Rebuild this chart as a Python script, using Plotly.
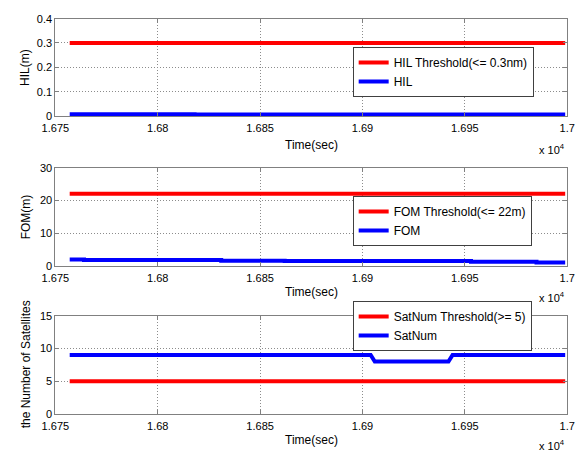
import plotly.graph_objects as go

# ---- data -------------------------------------------------------------
t_range = [16757, 16999]                 # time span of the run (sec)

hil_threshold = 0.3                      # HIL limit (<= 0.3 nm)
hil_t = [16757, 16818, 16999]
hil = [0.007, 0.006, 0.006]

fom_threshold = 22                       # FOM limit (<= 22 m)
fom_t = [16757, 16764, 16831, 16862, 16953, 16985, 16999]
fom = [2.0, 1.8, 1.6, 1.5, 1.3, 1.1, 1.1]

sat_threshold = 5                        # minimum satellites (>= 5)
sat_t = [16757, 16904, 16906, 16942, 16944, 16999]
sat = [9, 9, 8, 8, 9, 9]

x_ticks = [16750, 16800, 16850, 16900, 16950, 17000]
x_ticktext = ["1.675", "1.68", "1.685", "1.69", "1.695", "1.7"]

# ---- layout helpers ---------------------------------------------------
W, H = 581, 457
FONT = "Liberation Sans, Arial, sans-serif"
RED, BLUE = "#ff0000", "#0000ff"
LW = 4

x_dom = [43 / W, 575 / W]
panels = [  # (top px, bottom px, x-title px, exponent px, legend top px)
    (13, 113, 143, 147, 42),
    (166, 267, 294, 299, 195),
    (318, 419, 446, 451, 303),
]

fig = go.Figure()

def add_panel(i, thr_name, thr_val, name, xs, ys, shape, yrange, ydtick, ylabel):
    ax = "" if i == 1 else str(i)
    lg = "legend" if i == 1 else f"legend{i}"
    fig.add_trace(go.Scatter(
        x=t_range, y=[thr_val, thr_val], mode="lines", name=thr_name,
        line=dict(color=RED, width=LW), xaxis="x" + ax, yaxis="y" + ax, legend=lg))
    fig.add_trace(go.Scatter(
        x=xs, y=ys, mode="lines", name=name,
        line=dict(color=BLUE, width=LW, shape=shape), xaxis="x" + ax, yaxis="y" + ax, legend=lg))

    top, bot, ty, ey, lt = panels[i - 1]
    axis_common = dict(
        showline=True, linecolor="#808080", linewidth=1, mirror="ticks",
        ticks="inside", ticklen=4, tickcolor="#808080",
        showgrid=True, gridcolor="#8c8c8c", griddash="1px,2px", gridwidth=1,
        zeroline=False, tickfont=dict(family=FONT, size=11, color="#000"),
        ticklabeloverflow="allow",
    )
    fig.update_layout(**{
        "xaxis" + ax: dict(
            domain=x_dom, anchor="y" + ax, range=[16750, 17000],
            tickvals=x_ticks, ticktext=x_ticktext, ticklabelstandoff=2, **axis_common),
        "yaxis" + ax: dict(
            domain=[1 - bot / H, 1 - top / H], anchor="x" + ax, range=yrange,
            dtick=ydtick, **axis_common),
        lg: dict(
            x=352 / W, y=1 - lt / H, xanchor="left", yanchor="top",
            bgcolor="white", bordercolor="#404040", borderwidth=1,
            font=dict(family=FONT, size=12, color="#000"),
            tracegroupgap=0),
    })
    # axis titles and exponent label
    fig.add_annotation(x=(x_dom[0] + x_dom[1]) / 2, y=1 - ty / H,
                       xanchor="center", yanchor="middle",
                       xref="paper", yref="paper", text="Time(sec)", showarrow=False,
                       font=dict(family=FONT, size=12, color="#000"))
    fig.add_annotation(x=x_dom[1], y=1 - ey / H, xanchor="right", yanchor="middle",
                       xref="paper", yref="paper", text="x 10<sup>4</sup>", showarrow=False,
                       font=dict(family=FONT, size=11, color="#000"))
    fig.add_annotation(x=12 / W, y=1 - (top + bot) / 2 / H, textangle=-90,
                       xanchor="center", yanchor="middle",
                       xref="paper", yref="paper", text=ylabel, showarrow=False,
                       font=dict(family=FONT, size=12, color="#000"))


add_panel(1, "HIL Threshold(<= 0.3nm)", hil_threshold, "HIL", hil_t, hil, "hv",
          [0, 0.4], 0.1, "HIL(m)")
add_panel(2, "FOM Threshold(<= 22m)", fom_threshold, "FOM", fom_t, fom, "hv",
          [0, 30], 10, "FOM(m)")
add_panel(3, "SatNum Threshold(>= 5)", sat_threshold, "SatNum", sat_t, sat, "linear",
          [0, 15], 5, "the Number of Satellites")

fig.update_layout(
    width=W, height=H, margin=dict(l=0, r=0, t=0, b=0),
    paper_bgcolor="white", plot_bgcolor="white", showlegend=True,
    font=dict(family=FONT, color="#000"),
)

fig.write_html("out.html")
